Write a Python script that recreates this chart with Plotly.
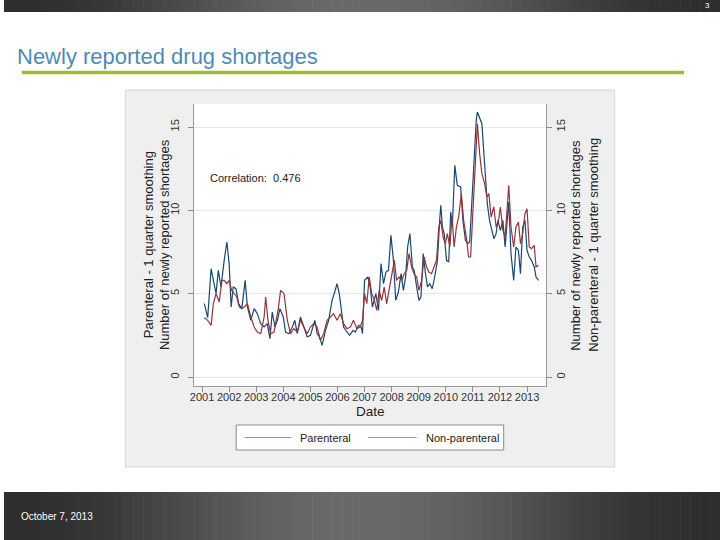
import plotly.graph_objects as go

# ---------------- data (months since Jan 2001, values) ----------------
par_month = [1.0, 2.5, 4.0, 5.4, 6.2, 7.2, 8.4, 9.8, 11.0, 12.0, 12.9, 13.8, 15.0, 16.2, 17.6, 19.1,
             20.1, 21.6, 23.1, 24.5, 26.0, 27.5, 28.9, 30.1, 31.1, 32.3, 33.4, 34.5, 36.0, 37.0, 38.5,
             40.0, 41.1, 42.2, 43.6, 45.1, 46.6, 48.0, 49.1, 50.0, 51.0, 52.0, 53.2, 54.7, 56.1, 57.6,
             58.8, 59.8, 60.8, 61.7, 62.7, 64.2, 65.4, 66.9, 67.9, 69.4, 70.5, 71.1, 72.0, 73.5, 74.5,
             75.5, 77.0, 78.2, 79.3, 80.4, 81.5, 82.6, 83.7, 84.8, 85.8, 87.0, 88.2, 89.2, 90.2, 91.1,
             92.1, 93.2, 94.0, 95.1, 96.1, 97.0, 98.0, 99.0, 99.9, 100.9, 102.0, 103.1, 104.3, 105.3,
             105.8, 106.5, 107.3, 108.3, 109.3, 110.2, 110.9, 112.0, 113.1, 114.6, 115.6, 116.7, 117.8,
             118.6, 119.6, 120.5, 121.5, 122.0, 123.0, 124.0, 125.2, 126.4, 127.4, 128.4, 129.3, 130.3,
             131.1, 132.2, 133.3, 134.3, 135.2, 135.9, 136.9, 138.1, 139.1, 140.2, 141.1, 142.1, 143.1,
             144.0, 145.0, 146.0, 147.2, 148.0, 149.1]
par_value = [4.4, 3.56, 6.5, 5.6, 5.0, 6.4, 5.4, 7.0, 8.1, 6.8, 4.2, 5.4, 5.3, 4.4, 4.1, 5.8,
             4.2, 3.4, 4.1, 3.8, 3.2, 3.0, 3.2, 2.3, 3.9, 3.0, 3.4, 4.1, 3.6, 2.7, 2.6,
             3.0, 3.4, 2.6, 3.6, 3.0, 2.4, 2.5, 3.0, 3.4, 2.6, 2.4, 1.9, 2.8, 3.4, 4.6,
             5.1, 5.6, 5.0, 4.0, 3.0, 2.7, 2.5, 2.8, 2.7, 3.1, 3.0, 2.6, 5.8, 6.0, 5.4,
             4.2, 5.0, 4.0, 6.8, 5.6, 6.3, 6.4, 8.5, 7.0, 4.6, 5.1, 6.2, 5.2, 6.0, 7.8,
             8.6, 6.6, 6.4, 5.4, 4.6, 4.8, 7.4, 6.2, 5.4, 5.6, 5.3, 6.0, 7.0, 9.4,
             10.3, 9.0, 8.6, 7.0, 6.9, 9.9, 9.0, 12.7, 11.5, 11.4, 9.4, 8.2, 8.0,
             8.1, 10.8, 12.8, 15.4, 15.9, 15.5, 15.2, 12.8, 10.4, 9.4, 8.8, 8.3, 8.6,
             9.4, 8.8, 9.4, 7.8, 9.4, 10.5, 7.4, 5.8, 7.8, 7.6, 6.2, 9.0, 9.4,
             7.6, 7.2, 7.0, 6.6, 6.0, 5.8]

nonpar_month = [1.0, 2.5, 4.0, 5.0, 6.2, 7.6, 8.8, 9.8, 11.0, 12.0, 13.1, 14.3, 15.4, 16.5, 17.6,
                18.7, 20.1, 21.6, 23.1, 24.5, 26.0, 27.5, 28.2, 29.2, 30.4, 31.9, 32.9, 33.8, 34.8,
                36.3, 37.8, 39.2, 40.7, 42.2, 43.6, 45.1, 46.6, 48.0, 49.5, 51.0, 52.5, 53.9, 55.4,
                56.9, 58.3, 59.8, 61.3, 62.7, 64.2, 65.7, 67.1, 68.6, 70.1, 71.1, 72.0, 73.0, 74.1,
                75.2, 76.4, 77.4, 78.5, 79.6, 80.7, 81.8, 83.0, 84.0, 85.2, 86.2, 87.3, 88.5, 89.6,
                90.7, 91.7, 92.9, 93.9, 95.1, 96.1, 97.3, 98.4, 99.5, 100.5, 101.7, 102.7, 103.9,
                104.9, 105.8, 106.8, 107.8, 108.7, 109.8, 110.8, 111.7, 112.7, 113.7, 114.9, 115.9,
                117.1, 118.1, 119.0, 120.0, 121.1, 122.0, 123.0, 124.0, 125.2, 126.2, 127.1, 128.1,
                129.3, 130.3, 131.4, 132.2, 133.3, 134.3, 135.9, 136.9, 138.1, 139.1, 140.2, 141.1,
                142.1, 143.1, 144.0, 145.0, 146.0, 147.2, 148.0, 149.1]
nonpar_value = [3.56, 3.4, 3.1, 4.4, 5.0, 4.5, 5.8, 5.8, 5.6, 5.8, 5.2, 5.0, 4.8, 4.2, 4.1,
                4.2, 4.4, 3.6, 3.0, 2.7, 2.6, 3.6, 4.8, 3.4, 2.6, 2.7, 3.4, 4.1, 5.2,
                5.0, 3.4, 2.6, 2.9, 2.7, 3.4, 3.0, 2.6, 3.0, 3.2, 3.0, 2.2, 2.6, 3.4,
                3.6, 3.8, 3.4, 3.8, 3.2, 2.9, 3.0, 3.4, 2.9, 3.0, 3.4, 5.0, 4.4, 6.0,
                5.0, 4.6, 4.0, 5.2, 4.6, 5.4, 4.4, 5.4, 6.2, 7.0, 5.8, 6.0, 5.8, 6.2,
                6.4, 7.4, 6.6, 6.2, 6.0, 5.2, 5.8, 7.2, 6.6, 6.3, 6.2, 6.6, 7.0,
                9.0, 9.4, 8.4, 8.0, 8.6, 7.8, 9.6, 7.8, 9.0, 9.6, 11.0, 9.4,
                8.4, 7.2, 7.2, 9.8, 13.4, 15.2, 13.4, 12.2, 11.6, 10.8, 11.0, 9.6,
                10.2, 9.0, 9.4, 10.2, 8.8, 8.4, 11.5, 9.0, 7.8, 9.0, 9.3, 8.0,
                8.6, 9.8, 10.1, 7.8, 7.7, 7.9, 6.6, 6.7]

year_ticks = list(range(2001, 2014))
y_ticks = [0, 5, 10, 15]
series_names = ["Parenteral", "Non-parenteral"]
series_colors = ["#1a476f", "#90353b"]
correlation_text = "Correlation:  0.476"

# ---------------- helpers ----------------
W, H = 720, 540
def px(x):
    return x / W
def py(y):
    return 1 - y / H

FONT = "Liberation Sans, Arial, sans-serif"

par_x = [2001 + m / 12 for m in par_month]
nonpar_x = [2001 + m / 12 for m in nonpar_month]

fig = go.Figure()
fig.add_trace(go.Scatter(x=par_x, y=par_value, mode="lines", name=series_names[0],
                         line=dict(color=series_colors[0], width=1.2), yaxis="y", showlegend=False))
fig.add_trace(go.Scatter(x=nonpar_x, y=nonpar_value, mode="lines", name=series_names[1],
                         line=dict(color=series_colors[1], width=1.2), yaxis="y2", showlegend=False))

shapes = []
# chart image background
shapes.append(dict(type="rect", xref="paper", yref="paper", x0=px(122), x1=px(614), y0=py(467), y1=py(90),
                   fillcolor="#efefef", line=dict(color="#d6d6d6", width=1), layer="below"))
# plot region white
shapes.append(dict(type="rect", xref="paper", yref="paper", x0=px(191), x1=px(545), y0=py(386), y1=py(104),
                   fillcolor="#ffffff", line=dict(width=0), layer="below"))

# gradient bars (top and bottom)
def grey_at(t):
    import math
    c = 0.5 - 0.5 * math.cos(2 * math.pi * min(max(t, 0), 1))
    v = int(46 + (106 - 46) * c)
    return f"rgb({v},{v},{v})"

n = 72
for i in range(n):
    x0 = i * W / n
    x1 = (i + 1) * W / n + 0.6
    col = grey_at((i + 0.5) / n)
    shapes.append(dict(type="rect", xref="paper", yref="paper", x0=px(x0), x1=px(min(x1, W)),
                       y0=py(12), y1=py(0), fillcolor=col, line=dict(width=0), layer="below"))
    shapes.append(dict(type="rect", xref="paper", yref="paper", x0=px(x0), x1=px(min(x1, W)),
                       y0=py(540), y1=py(492), fillcolor=col, line=dict(width=0), layer="below"))

# green title rule
shapes.append(dict(type="line", xref="paper", yref="paper", x0=px(18), x1=px(684), y0=py(72.5), y1=py(72.5),
                   line=dict(color="#9dbf2f", width=3.5)))

# legend box
shapes.append(dict(type="rect", xref="paper", yref="paper", x0=px(233.5), x1=px(502.5), y0=py(450), y1=py(425),
                   fillcolor="#ffffff", line=dict(color="#8a8a8a", width=1)))
shapes.append(dict(type="line", xref="paper", yref="paper", x0=px(242), x1=px(289), y0=py(437.5), y1=py(437.5),
                   line=dict(color=series_colors[0], width=1.1), opacity=0.55))
shapes.append(dict(type="line", xref="paper", yref="paper", x0=px(366), x1=px(415), y0=py(437.5), y1=py(437.5),
                   line=dict(color=series_colors[1], width=1.1), opacity=0.55))

annotations = []
def ann(text, x, y, size, color="#222222", angle=0, xanchor="center", yanchor="middle"):
    annotations.append(dict(text=text, x=px(x), y=py(y), xref="paper", yref="paper", showarrow=False,
                            font=dict(family=FONT, size=size, color=color), textangle=angle,
                            xanchor=xanchor, yanchor=yanchor))

ann("Newly reported drug shortages", 11, 56, 22, color="#4f8ab6", xanchor="left")
ann("3", 712, 6, 8, color="#ffffff", xanchor="right")
ann("October 7, 2013", 15, 516.5, 10, color="#ffffff", xanchor="left")
ann(correlation_text, 205, 178, 11, xanchor="left")
ann("Parenteral - 1 quarter smoothing", 145, 245, 13, angle=-90)
ann("Number of newly reported shortages", 161, 245, 13, angle=-90)
ann("Number of newly reported shortages", 574, 245, 13, angle=-90)
ann("Non-parenteral - 1 quarter smoothing", 592, 245, 13, angle=-90)
ann("Date", 369, 411.5, 13.5)
ann(series_names[0], 296, 437.5, 11, xanchor="left")
ann(series_names[1], 422, 437.5, 11, xanchor="left")

# axis ranges derived from the picture's scale
y_range = [-0.54, 16.38]
x_range = [2000.70, 2013.70]

axis_font = dict(family=FONT, size=11, color="#333333")
fig.update_layout(
    width=W, height=H,
    margin=dict(l=0, r=0, t=0, b=0),
    paper_bgcolor="#ffffff",
    plot_bgcolor="rgba(0,0,0,0)",
    shapes=shapes,
    annotations=annotations,
    xaxis=dict(domain=[px(191), px(545)], range=x_range, tickvals=year_ticks,
               ticktext=[str(y) for y in year_ticks], ticks="outside", ticklen=5,
               tickcolor="#8c8c8c", showline=True, linecolor="#9a9a9a", linewidth=1,
               showgrid=False, zeroline=False, tickfont=axis_font, anchor="y",
               ticklabelstandoff=-4),
    yaxis=dict(domain=[py(386), py(104)], range=y_range, tickvals=y_ticks, ticks="outside",
               ticklen=5, tickcolor="#8c8c8c", showline=True, linecolor="#9a9a9a", linewidth=1,
               showgrid=True, gridcolor="#dfe8ef", gridwidth=1, zeroline=False, tickangle=-90,
               tickfont=axis_font, anchor="x", ticklabelstandoff=5),
    yaxis2=dict(domain=[py(386), py(104)], range=y_range, tickvals=y_ticks, ticks="outside",
                ticklen=5, tickcolor="#8c8c8c", showline=True, linecolor="#9a9a9a", linewidth=1,
                showgrid=False, zeroline=False, tickangle=-90, side="right", overlaying="y",
                tickfont=axis_font, anchor="x"),
)

fig.write_html("out.html", config={"displayModeBar": False},
               post_script="document.body.style.margin='0px';document.body.style.overflow='hidden';")
